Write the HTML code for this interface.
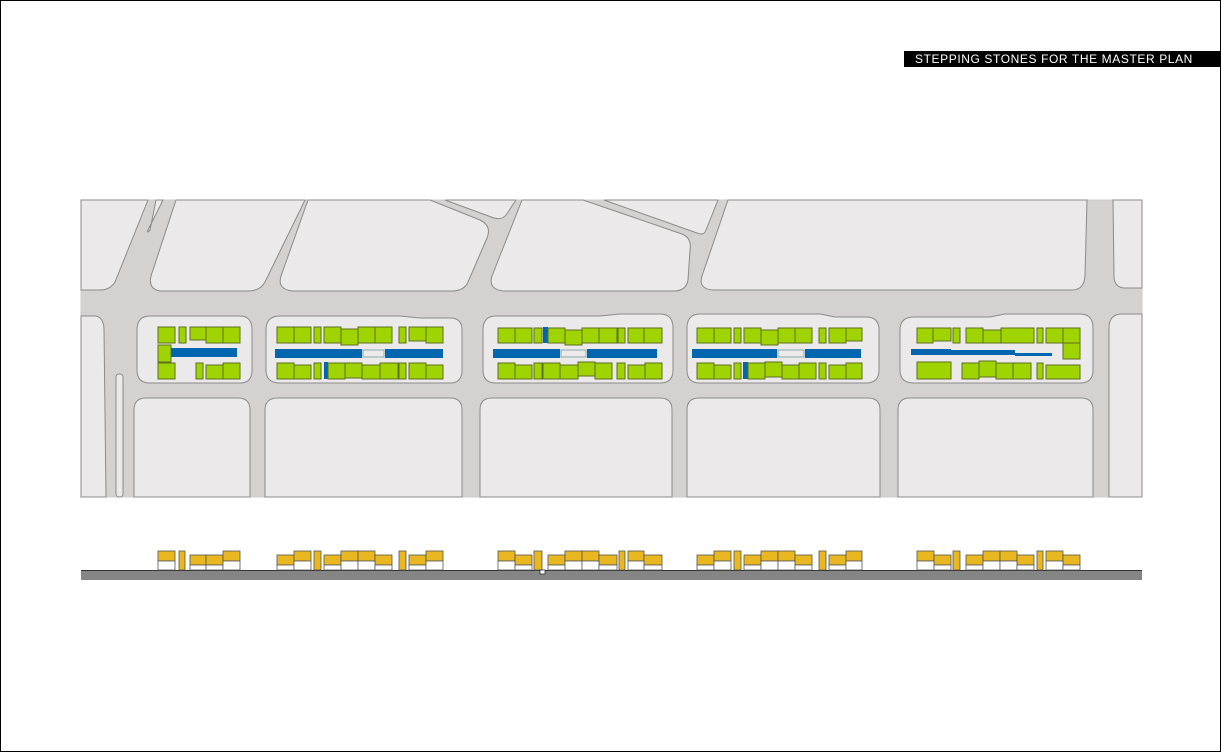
<!DOCTYPE html>
<html><head><meta charset="utf-8"><style>
html,body{margin:0;padding:0;background:#fff}
body{width:1221px;height:752px;position:relative;overflow:hidden}
.frame{position:absolute;left:0;top:0;width:1219px;height:750px;border:1px solid #000}
.title{position:absolute;left:904px;top:51px;width:317px;height:16px;background:#000;color:#fff;font:12px "Liberation Sans",sans-serif;letter-spacing:0.6px;line-height:16px;padding-left:11px;box-sizing:border-box}
svg{position:absolute;left:0;top:0}
</style></head><body>
<div class="frame"></div>
<div class="title">STEPPING STONES FOR THE MASTER PLAN</div>
<svg width="1221" height="752" viewBox="0 0 1221 752">
<rect x="81" y="200" width="1061" height="297" fill="#d4d1d0" stroke="#ccc"/>
<g fill="#ebe9ea" stroke="#8c8a8a" stroke-width="1">
<path d="M81,200 L148,200 L115,282 Q110,290 100,290 L81,290Z"/>
<path d="M156,200 L163,200 L148,230 Q146,234 150,230Z"/>
<path d="M176,200 L305,200 L265,282 Q260,291 248,291 L160,291 Q148,289 151,276Z"/>
<path d="M308,200 L430,200 L480,220 Q492,226 487,238 L468,282 Q464,291 452,291 L292,291 Q277,289 281,276Z"/>
<path d="M445,200 L516,200 L506,215 Q502,220 494,218Z"/>
<path d="M522,200 L583,200 L682,234 Q692,238 690,250 L688,280 Q686,291 674,291 L503,291 Q488,289 492,276Z"/>
<path d="M604,200 L718,200 L706,230 Q704,236 697,233Z"/>
<path d="M728,200 L1087,200 L1085,276 Q1084,290 1072,290 L713,290 Q698,289 702,276Z"/>
<path d="M1113,200 L1142,200 L1142,288 L1124,288 Q1114,287 1114,276Z"/>
<path d="M81,316 L96,316 Q104,318 104,330 L106,497 L81,497Z"/>
<rect x="116" y="374" width="7" height="123" rx="3"/>
<path d="M150,316 L240,316 Q252,316 252,330 L252,370 Q252,383 240,383 L150,383 Q137,383 137,370 L137,330 Q137,316 150,316Z"/>
<path d="M280,316 L400,316 L420,318 L450,318 Q462,318 462,330 L462,370 Q462,383 450,383 L280,383 Q266,383 266,370 L266,330 Q266,316 280,316Z"/>
<path d="M496,316 L600,316 L620,314 L660,314 Q673,314 673,328 L673,370 Q673,383 660,383 L496,383 Q483,383 483,370 L483,330 Q483,316 496,316Z"/>
<path d="M700,314 L820,314 L835,317 L866,317 Q879,317 879,330 L879,370 Q879,383 866,383 L700,383 Q687,383 687,370 L687,328 Q687,314 700,314Z"/>
<path d="M914,317 L990,317 L1005,314 L1080,314 Q1093,314 1093,328 L1093,370 Q1093,383 1080,383 L914,383 Q900,383 900,370 L900,330 Q900,317 914,317Z"/>
<path d="M1122,314 L1142,314 L1142,497 L1109,497 L1109,328 Q1109,314 1122,314Z"/>
<path d="M146,398 L238,398 Q250,398 250,410 L250,497 L134,497 L134,410 Q134,398 146,398Z"/>
<path d="M278,398 L450,398 Q462,398 462,410 L462,497 L265,497 L265,410 Q265,398 278,398Z"/>
<path d="M492,398 L660,398 Q672,398 672,410 L672,497 L480,497 L480,410 Q480,398 492,398Z"/>
<path d="M699,398 L868,398 Q880,398 880,410 L880,497 L687,497 L687,410 Q687,398 699,398Z"/>
<path d="M910,398 L1081,398 Q1093,398 1093,410 L1093,497 L898,497 L898,410 Q898,398 910,398Z"/>
</g>
<!-- blue bars -->
<g fill="#0066b0">
<rect x="171" y="348" width="66" height="9"/>
<rect x="275" y="349" width="87" height="9"/><rect x="385" y="349" width="58" height="9"/><rect x="324" y="362" width="4" height="17"/>
<rect x="493" y="349" width="67" height="9"/><rect x="587" y="349" width="70" height="9"/><rect x="543" y="327" width="5" height="16"/>
<rect x="692" y="349" width="85" height="9"/><rect x="805" y="349" width="56" height="9"/><rect x="743" y="362" width="5" height="17"/>
<rect x="911" y="349" width="40" height="6"/><rect x="951" y="350" width="64" height="5"/><rect x="1015" y="353" width="37" height="3"/>
</g>
<g fill="none" stroke="#8aa" stroke-width="1">
<rect x="363" y="350" width="21" height="7"/><rect x="561" y="350" width="25" height="7"/><rect x="778" y="350" width="26" height="7"/>
</g>
<g fill="#9fd400" stroke="#5e6e22" stroke-width="1">
<!-- block1 -->
<rect x="158" y="327" width="17" height="16"/><rect x="179" y="327" width="7" height="16"/><rect x="190" y="327" width="16" height="13"/><rect x="206" y="327" width="17" height="16"/><rect x="223" y="327" width="17" height="16"/>
<rect x="158" y="345" width="13" height="17"/>
<rect x="158" y="363" width="17" height="16"/><rect x="196" y="363" width="7" height="16"/><rect x="206" y="365" width="17" height="14"/><rect x="223" y="363" width="17" height="16"/>
<!-- block2 -->
<rect x="277" y="327" width="17" height="16"/><rect x="294" y="327" width="17" height="16"/><rect x="314" y="327" width="7" height="16"/><rect x="324" y="327" width="17" height="16"/><rect x="341" y="329" width="17" height="16"/><rect x="358" y="327" width="17" height="16"/><rect x="375" y="327" width="17" height="16"/><rect x="399" y="327" width="7" height="16"/><rect x="409" y="327" width="17" height="14"/><rect x="426" y="327" width="17" height="16"/>
<rect x="277" y="363" width="17" height="16"/><rect x="294" y="365" width="17" height="14"/><rect x="314" y="363" width="7" height="16"/><rect x="328" y="363" width="17" height="16"/><rect x="345" y="363" width="17" height="15"/><rect x="362" y="365" width="18" height="14"/><rect x="380" y="363" width="18" height="16"/><rect x="399" y="363" width="7" height="16"/><rect x="409" y="363" width="17" height="16"/><rect x="426" y="365" width="17" height="14"/>
<!-- block3 -->
<rect x="498" y="328" width="17" height="15"/><rect x="515" y="328" width="17" height="15"/><rect x="534" y="328" width="8" height="15"/><rect x="548" y="328" width="17" height="15"/><rect x="565" y="330" width="17" height="15"/><rect x="582" y="328" width="17" height="15"/><rect x="599" y="328" width="18" height="15"/><rect x="618" y="328" width="7" height="15"/><rect x="628" y="328" width="16" height="15"/><rect x="644" y="328" width="18" height="15"/>
<rect x="498" y="363" width="17" height="16"/><rect x="515" y="365" width="17" height="14"/><rect x="534" y="363" width="8" height="16"/><rect x="543" y="363" width="17" height="16"/><rect x="560" y="365" width="18" height="14"/><rect x="578" y="362" width="17" height="14"/><rect x="595" y="363" width="17" height="16"/><rect x="617" y="363" width="8" height="16"/><rect x="628" y="365" width="17" height="14"/><rect x="645" y="363" width="17" height="16"/>
<!-- block4 -->
<rect x="697" y="328" width="17" height="15"/><rect x="714" y="328" width="17" height="15"/><rect x="734" y="328" width="7" height="15"/><rect x="744" y="328" width="17" height="15"/><rect x="761" y="330" width="17" height="15"/><rect x="778" y="328" width="17" height="15"/><rect x="795" y="328" width="17" height="15"/><rect x="819" y="328" width="7" height="15"/><rect x="829" y="328" width="17" height="15"/><rect x="846" y="328" width="16" height="13"/>
<rect x="697" y="363" width="17" height="16"/><rect x="714" y="365" width="17" height="14"/><rect x="734" y="363" width="7" height="16"/><rect x="748" y="363" width="17" height="16"/><rect x="765" y="362" width="17" height="15"/><rect x="782" y="365" width="17" height="14"/><rect x="799" y="363" width="17" height="16"/><rect x="819" y="363" width="7" height="16"/><rect x="829" y="365" width="17" height="14"/><rect x="846" y="363" width="16" height="16"/>
<!-- block5 -->
<rect x="917" y="328" width="16" height="15"/><rect x="933" y="328" width="18" height="13"/><rect x="953" y="328" width="7" height="15"/><rect x="966" y="328" width="17" height="15"/><rect x="983" y="330" width="18" height="13"/><rect x="1001" y="328" width="33" height="15"/><rect x="1037" y="328" width="6" height="15"/><rect x="1046" y="328" width="17" height="15"/><rect x="1063" y="328" width="17" height="15"/><rect x="1063" y="343" width="17" height="16"/>
<rect x="917" y="362" width="34" height="17"/><rect x="962" y="363" width="17" height="16"/><rect x="979" y="361" width="17" height="16"/><rect x="996" y="363" width="17" height="16"/><rect x="1013" y="363" width="18" height="16"/><rect x="1037" y="363" width="6" height="16"/><rect x="1046" y="365" width="34" height="14"/>
</g>
<!-- section -->
<rect x="81" y="571" width="1061" height="9" fill="#858585"/>
<line x1="81" y1="570.5" x2="1142" y2="570.5" stroke="#333" stroke-width="1"/>
<g stroke="#555" stroke-width="0.8">
<g fill="#e9b820">
<!-- tall: y551-561 ; low: y555-565 ; narrow full: y551-570 -->
<rect x="158" y="551" width="17" height="10"/><rect x="179" y="551" width="6" height="19"/><rect x="190" y="555" width="16" height="10"/><rect x="206" y="555" width="17" height="10"/><rect x="223" y="551" width="17" height="10"/>
<rect x="277" y="555" width="17" height="10"/><rect x="294" y="551" width="17" height="10"/><rect x="314" y="551" width="7" height="19"/><rect x="324" y="555" width="17" height="10"/><rect x="341" y="551" width="17" height="10"/><rect x="358" y="551" width="17" height="10"/><rect x="375" y="555" width="17" height="10"/><rect x="399" y="551" width="7" height="19"/><rect x="409" y="555" width="17" height="10"/><rect x="426" y="551" width="17" height="10"/>
<rect x="498" y="551" width="17" height="10"/><rect x="515" y="555" width="17" height="10"/><rect x="534" y="551" width="8" height="19"/><rect x="548" y="555" width="17" height="10"/><rect x="565" y="551" width="17" height="10"/><rect x="582" y="551" width="17" height="10"/><rect x="599" y="555" width="18" height="10"/><rect x="619" y="551" width="6" height="19"/><rect x="628" y="551" width="16" height="10"/><rect x="644" y="555" width="18" height="10"/>
<rect x="697" y="555" width="17" height="10"/><rect x="714" y="551" width="17" height="10"/><rect x="734" y="551" width="7" height="19"/><rect x="744" y="555" width="17" height="10"/><rect x="761" y="551" width="17" height="10"/><rect x="778" y="551" width="17" height="10"/><rect x="795" y="555" width="17" height="10"/><rect x="819" y="551" width="7" height="19"/><rect x="829" y="555" width="17" height="10"/><rect x="846" y="551" width="16" height="10"/>
<rect x="917" y="551" width="17" height="10"/><rect x="934" y="555" width="17" height="10"/><rect x="953" y="551" width="7" height="19"/><rect x="966" y="555" width="17" height="10"/><rect x="983" y="551" width="17" height="10"/><rect x="1000" y="551" width="17" height="10"/><rect x="1017" y="555" width="17" height="10"/><rect x="1037" y="551" width="6" height="19"/><rect x="1046" y="551" width="17" height="10"/><rect x="1063" y="555" width="17" height="10"/>
</g>
<g fill="#fff">
<rect x="158" y="561" width="17" height="9"/><rect x="190" y="565" width="16" height="5"/><rect x="206" y="565" width="17" height="5"/><rect x="223" y="561" width="17" height="9"/>
<rect x="277" y="565" width="17" height="5"/><rect x="294" y="561" width="17" height="9"/><rect x="324" y="565" width="17" height="5"/><rect x="341" y="561" width="17" height="9"/><rect x="358" y="561" width="17" height="9"/><rect x="375" y="565" width="17" height="5"/><rect x="409" y="565" width="17" height="5"/><rect x="426" y="561" width="17" height="9"/>
<rect x="498" y="561" width="17" height="9"/><rect x="515" y="565" width="17" height="5"/><rect x="548" y="565" width="17" height="5"/><rect x="565" y="561" width="17" height="9"/><rect x="582" y="561" width="17" height="9"/><rect x="599" y="565" width="18" height="5"/><rect x="628" y="561" width="16" height="9"/><rect x="644" y="565" width="18" height="5"/>
<rect x="697" y="565" width="17" height="5"/><rect x="714" y="561" width="17" height="9"/><rect x="744" y="565" width="17" height="5"/><rect x="761" y="561" width="17" height="9"/><rect x="778" y="561" width="17" height="9"/><rect x="795" y="565" width="17" height="5"/><rect x="829" y="565" width="17" height="5"/><rect x="846" y="561" width="16" height="9"/>
<rect x="917" y="561" width="17" height="9"/><rect x="934" y="565" width="17" height="5"/><rect x="966" y="565" width="17" height="5"/><rect x="983" y="561" width="17" height="9"/><rect x="1000" y="561" width="17" height="9"/><rect x="1017" y="565" width="17" height="5"/><rect x="1046" y="561" width="17" height="9"/><rect x="1063" y="565" width="17" height="5"/>
</g>
</g>
<rect x="540" y="570" width="5" height="4" fill="#fff" stroke="#333" stroke-width="0.8"/>
</svg>
</body></html>
